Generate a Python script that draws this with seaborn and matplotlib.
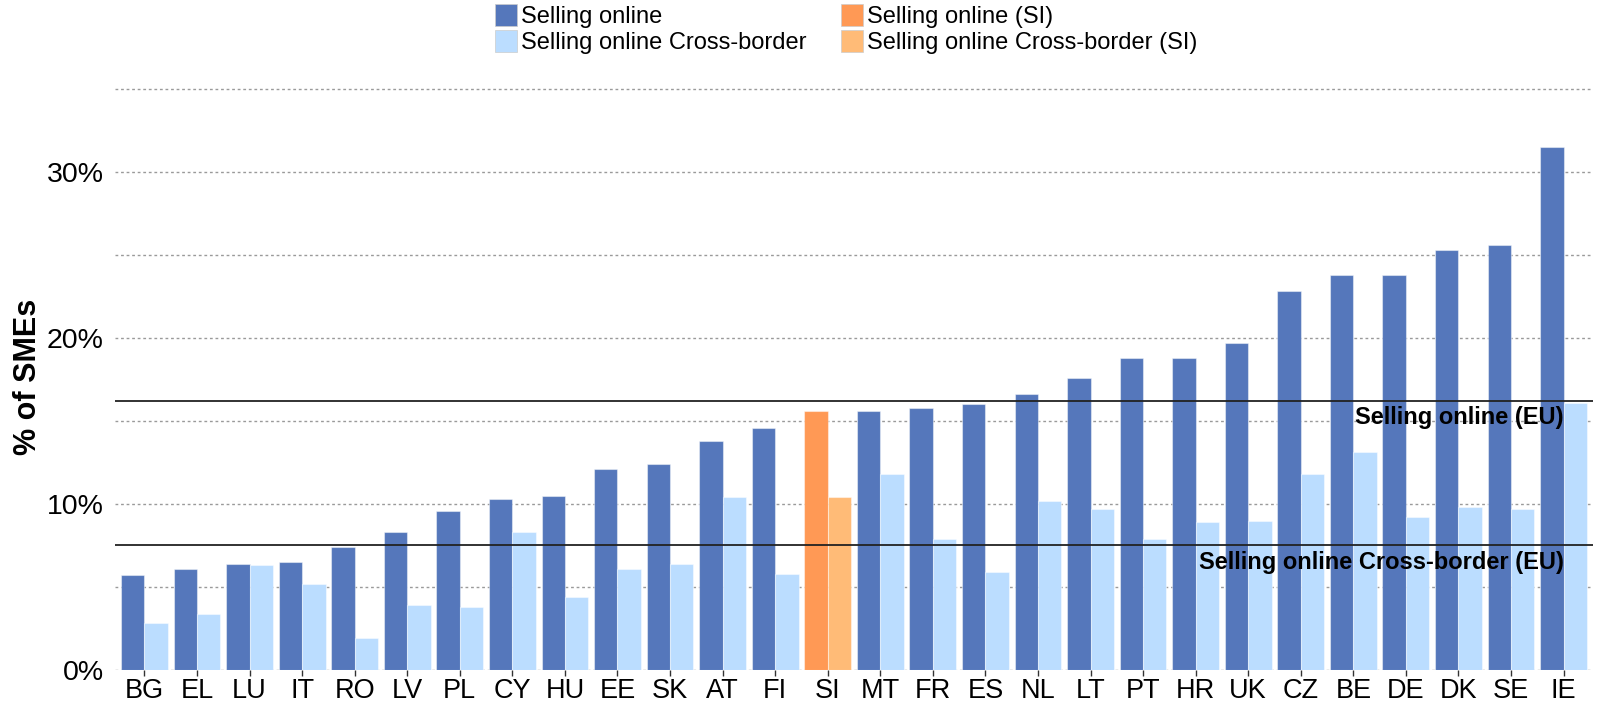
import numpy as np
import pandas as pd
import matplotlib
matplotlib.use("Agg")
import matplotlib.pyplot as plt
from matplotlib.patches import Patch
import seaborn as sns

countries = ['BG','EL','LU','IT','RO','LV','PL','CY','HU','EE','SK','AT','FI','SI',
             'MT','FR','ES','NL','LT','PT','HR','UK','CZ','BE','DE','DK','SE','IE']
selling_online = [5.7, 6.1, 6.4, 6.5, 7.4, 8.3, 9.6, 10.3, 10.5, 12.1, 12.4, 13.8, 14.6, 15.6,
                  15.6, 15.8, 16.0, 16.6, 17.6, 18.8, 18.8, 19.7, 22.8, 23.8, 23.8, 25.3, 25.6, 31.5]
selling_cross = [2.8, 3.4, 6.3, 5.2, 1.9, 3.9, 3.8, 8.3, 4.4, 6.1, 6.4, 10.4, 5.8, 10.4,
                 11.8, 7.9, 5.9, 10.2, 9.7, 7.9, 8.9, 9.0, 11.8, 13.1, 9.2, 9.8, 9.7, 16.1]
eu_selling = 16.2
eu_cross = 7.5
highlight = 'SI'
series_names = ['Selling online', 'Selling online Cross-border']
yticks = [0, 10, 20, 30]
ytick_labels = ['0%', '10%', '20%', '30%']

DARK = '#5577BB'
LIGHT = '#BBDDFF'
ORANGE = '#FF9955'
LORANGE = '#FFBB77'

sns.set_style('white')
plt.rcParams['font.family'] = ['Liberation Sans', 'DejaVu Sans']
plt.rcParams['text.color'] = 'black'
plt.rcParams['xtick.color'] = 'black'
plt.rcParams['ytick.color'] = 'black'
plt.rcParams['axes.labelcolor'] = 'black'

df = pd.DataFrame({
    'country': countries * 2,
    'value': selling_online + selling_cross,
    'series': [series_names[0]] * len(countries) + [series_names[1]] * len(countries),
})

fig = plt.figure(figsize=(15.99, 7.04), dpi=100)
ax = fig.add_axes([115/1599, 1 - 670/704, (1593-115)/1599, (670-83.7)/704])

sns.barplot(data=df, x='country', y='value', hue='series', order=countries,
            hue_order=series_names, palette=[DARK, LIGHT], saturation=1,
            width=0.89, dodge=True, ax=ax, legend=False,
            edgecolor=(1, 1, 1, 0.45), linewidth=0.8)

idx = countries.index(highlight)
ax.containers[0][idx].set_facecolor(ORANGE)
ax.containers[1][idx].set_facecolor(LORANGE)

ax.set_xlim(-0.56, len(countries) - 1 + 0.56)
ax.set_ylim(0, 35.3)
ax.set_yticks(yticks)
ax.set_yticklabels(ytick_labels)
ax.set_yticks(np.arange(0, 36, 5), minor=True)
ax.set_axisbelow(True)
ax.grid(False)
ax.yaxis.grid(True, which='both', linestyle=(0, (2, 2)), color='#9a9a9a', linewidth=1)
for s in ax.spines.values():
    s.set_visible(False)

ax.tick_params(axis='y', which='major', length=5, width=1, color='#333333', pad=3,
               labelsize=20.5, labelcolor='black')
ax.tick_params(axis='y', which='minor', length=0)
ax.tick_params(axis='x', which='major', length=4, width=1, color='#333333', pad=2,
               labelsize=19.5, labelcolor='black', bottom=True)

ax.set_xlabel('')
ax.set_ylabel('% of SMEs', fontsize=22, fontweight='bold', color='black')
ax.yaxis.set_label_coords(-0.049, 0.5)

ax.axhline(eu_selling, color='#222222', linewidth=1.3, zorder=5)
ax.axhline(eu_cross, color='#222222', linewidth=1.3, zorder=5)
xr = len(countries) - 1 + 0.0
ax.text(xr, eu_selling - 1.0, 'Selling online (EU)', ha='right', va='center',
        fontsize=17, fontweight='bold', color='black', zorder=6)
ax.text(xr, eu_cross - 1.0, 'Selling online Cross-border (EU)', ha='right', va='center',
        fontsize=17, fontweight='bold', color='black', zorder=6)

handles = [Patch(facecolor=DARK, edgecolor='#cccccc', linewidth=0.5),
           Patch(facecolor=LIGHT, edgecolor='#cccccc', linewidth=0.5),
           Patch(facecolor=ORANGE, edgecolor='#cccccc', linewidth=0.5),
           Patch(facecolor=LORANGE, edgecolor='#cccccc', linewidth=0.5)]
labels = ['Selling online', 'Selling online Cross-border',
          'Selling online (SI)', 'Selling online Cross-border (SI)']
fig.legend(handles, labels, loc='upper left', bbox_to_anchor=(495/1599, 1 - 4/704),
           ncol=2, frameon=False, fontsize=17, handlelength=0.95, handleheight=1.05,
           handletextpad=0.15, labelspacing=0.08, columnspacing=1.45, borderpad=0,
           borderaxespad=0)

fig.savefig('out.png', dpi=100)
